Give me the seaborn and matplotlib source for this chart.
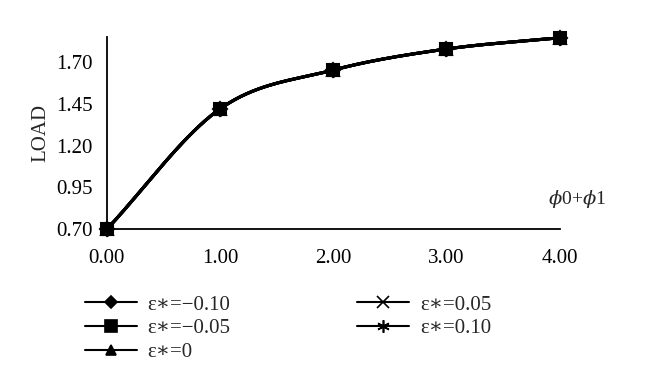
import numpy as np
import pandas as pd
import matplotlib
matplotlib.use("Agg")
import matplotlib.pyplot as plt
import seaborn as sns

# values
phi_sum = [0.0, 1.0, 2.0, 3.0, 4.0]
load_m010 = [0.70, 1.42, 1.652, 1.778, 1.845]
load_m005 = [0.70, 1.42, 1.652, 1.778, 1.845]
load_0 = [0.70, 1.42, 1.652, 1.778, 1.845]
load_p005 = [0.70, 1.42, 1.652, 1.778, 1.845]
load_p010 = [0.70, 1.42, 1.652, 1.778, 1.845]
series_names = ["ε∗=−0.10", "ε∗=−0.05", "ε∗=0", "ε∗=0.05", "ε∗=0.10"]
y_ticks = [0.70, 0.95, 1.20, 1.45, 1.70]
x_ticks = [0.0, 1.0, 2.0, 3.0, 4.0]


def smooth(x, y, n=40):
    # catmull-rom style smoothing like a spreadsheet "smoothed line"
    x = np.asarray(x, float)
    y = np.asarray(y, float)
    px = np.concatenate([[2 * x[0] - x[1]], x, [2 * x[-1] - x[-2]]])
    py = np.concatenate([[2 * y[0] - y[1]], y, [2 * y[-1] - y[-2]]])
    xs, ys = [], []
    t = np.linspace(0, 1, n)
    for i in range(1, len(px) - 2):
        for p, out in ((px, xs), (py, ys)):
            p0, p1, p2, p3 = p[i - 1], p[i], p[i + 1], p[i + 2]
            out.append(0.5 * ((2 * p1) + (-p0 + p2) * t
                              + (2 * p0 - 5 * p1 + 4 * p2 - p3) * t ** 2
                              + (-p0 + 3 * p1 - 3 * p2 + p3) * t ** 3))
    return np.concatenate(xs), np.concatenate(ys)


sns.set_style("white")
plt.rcParams["font.family"] = ["Liberation Serif", "DejaVu Serif"]
plt.rcParams["mathtext.fontset"] = "dejavuserif"

fig = plt.figure(figsize=(6.6, 3.89), dpi=100)
ax = fig.add_axes([0.162, 0.411, 0.686, 0.494])

all_loads = [load_m010, load_m005, load_0, load_p005, load_p010]
markers = ["D", "s", "^", "x", (6, 2, 0)]
sizes = [7, 9, 8, 9, 10]
handles = []
for name, vals, mk, ms in zip(series_names, all_loads, markers, sizes):
    sx, sy = smooth(phi_sum, vals)
    sns.lineplot(x=sx, y=sy, ax=ax, color="black", lw=2.2, sort=False,
                 estimator=None, legend=False)
    df = pd.DataFrame({"x": phi_sum, "y": vals})
    z = 5 if mk == "s" else 4
    ax.plot(df["x"], df["y"], linestyle="none", marker=mk, ms=ms,
            color="black", mew=1.5, clip_on=False, zorder=z)
    h, = ax.plot([], [], color="black", lw=1.5, marker=mk, ms=ms * 0.9,
                 mew=1.2, label=name)
    handles.append(h)

if ax.get_legend() is not None:
    ax.get_legend().remove()

ax.set_xlim(0, 4)
ax.set_ylim(0.70, 1.85)
ax.set_xticks(x_ticks)
ax.set_xticklabels([f"{v:.2f}" for v in x_ticks])
ax.set_yticks(y_ticks)
ax.set_yticklabels([f"{v:.2f}" for v in y_ticks])
ax.tick_params(axis="x", direction="in", length=6, width=1.2, labelsize=15,
               pad=14, colors="black")
ax.tick_params(axis="y", direction="out", length=6, width=1.2, labelsize=15,
               pad=4, colors="black")
for s in ["top", "right"]:
    ax.spines[s].set_visible(False)
for s in ["left", "bottom"]:
    ax.spines[s].set_color("black")
    ax.spines[s].set_linewidth(1.3)

ax.set_ylabel("LOAD", fontsize=15, labelpad=4)
ax.text(0.975, 0.1, r"$\phi$0+$\phi$1", transform=ax.transAxes,
        fontsize=14, ha="left", va="bottom")

fig.legend(handles=handles, loc="upper left", bbox_to_anchor=(0.1, 0.29),
           ncol=2, frameon=False, fontsize=15, handlelength=2.5,
           columnspacing=6.1, labelspacing=0.2, handletextpad=0.5)

fig.savefig("out.png", dpi=100)
